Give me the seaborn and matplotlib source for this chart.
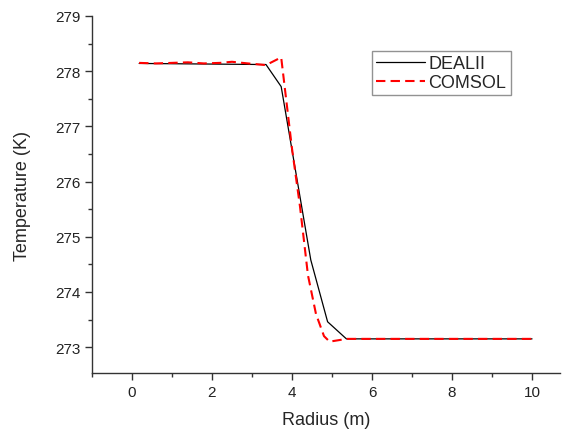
import numpy as np
import pandas as pd
import seaborn as sns
import matplotlib.pyplot as plt
from matplotlib.ticker import MultipleLocator

# DEALII solution (radius in m, temperature in K)
dealii_r = [0.18, 3.35, 3.73, 4.1, 4.47, 4.89, 5.36, 10.0]
dealii_t = [278.14, 278.12, 277.72, 276.15, 274.58, 273.46, 273.15, 273.15]

# COMSOL solution
comsol_r = [0.18, 0.6, 1.0, 1.4, 1.8, 2.2, 2.5, 2.9, 3.35, 3.73, 4.0, 4.2,
            4.4, 4.6, 4.8, 4.94, 5.37, 10.0]
comsol_t = [278.15, 278.14, 278.15, 278.16, 278.14, 278.15, 278.17, 278.14, 278.11,
            278.25, 276.6, 275.55, 274.3, 273.6, 273.2, 273.1, 273.15, 273.15]

sns.set_theme(style="white")
plt.rcParams['font.family'] = ['Liberation Sans', 'DejaVu Sans']

fig = plt.figure(figsize=(5.64, 4.35), dpi=100)
ax = fig.add_axes([0.163, 0.140, 0.830, 0.821])

sns.lineplot(x=dealii_r, y=dealii_t, ax=ax, color='black', linewidth=0.9,
             label='DEALII', sort=False)
sns.lineplot(x=comsol_r, y=comsol_t, ax=ax, color='#ff0000', linewidth=1.5,
             label='COMSOL', sort=False, linestyle=(0, (4.5, 2.5)))

ax.set_xlim(-1, 10.7)
ax.set_ylim(272.53, 279)
ax.xaxis.set_major_locator(MultipleLocator(2))
ax.xaxis.set_minor_locator(MultipleLocator(1))
ax.yaxis.set_major_locator(MultipleLocator(1))
ax.yaxis.set_minor_locator(MultipleLocator(0.5))

for side in ['top', 'right']:
    ax.spines[side].set_visible(False)
for side in ['left', 'bottom']:
    ax.spines[side].set_color('#333333')
    ax.spines[side].set_linewidth(1.0)

ax.tick_params(which='major', direction='out', length=5, width=1, color='#333333',
               labelsize=11, labelcolor='#222222', left=True, bottom=True)
ax.tick_params(which='minor', direction='out', length=3, width=1, color='#333333',
               left=True, bottom=True)

ax.set_xlabel('Radius (m)', fontsize=13, labelpad=9)
ax.set_ylabel('Temperature (K)', fontsize=13, labelpad=17)

leg = ax.legend(loc='upper right', bbox_to_anchor=(0.895, 0.903), fontsize=13,
                frameon=True, fancybox=False, edgecolor='#777777',
                handlelength=2.7, handletextpad=0.2, borderpad=0.25,
                labelspacing=0.1, borderaxespad=0)
leg.get_frame().set_linewidth(1.0)

fig.savefig('out.png', dpi=100)
